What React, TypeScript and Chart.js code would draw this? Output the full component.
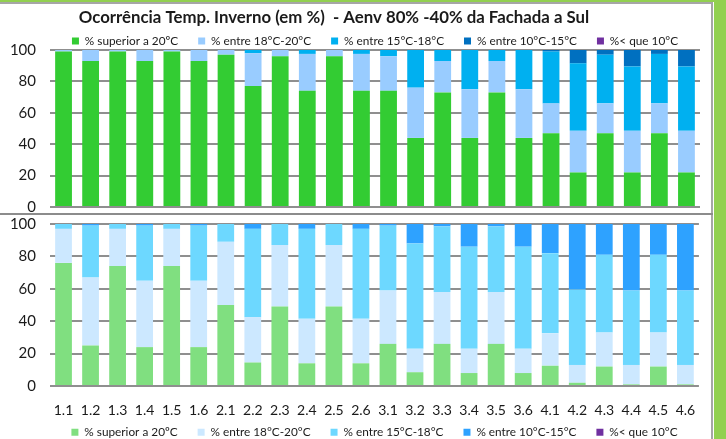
import React, { useEffect, useRef } from 'react';
import { Chart, registerables } from 'chart.js';

Chart.register(...registerables);

const categories = ['1.1', '1.2', '1.3', '1.4', '1.5', '1.6', '2.1', '2.2', '2.3', '2.4', '2.5', '2.6', '3.1', '3.2', '3.3', '3.4', '3.5', '3.6', '4.1', '4.2', '4.3', '4.4', '4.5', '4.6'];

const seriesNames = ['% superior a 20ºC', '% entre 18°C-20°C', '% entre 15°C-18°C', '% entre 10°C-15°C', '%< que 10°C'];

const titleText = 'Ocorrência Temp. Inverno (em %)  - Aenv 80% -40% da Fachada a Sul';

const yTickValues = [0, 20, 40, 60, 80, 100];

// Top panel
const topAbove20 = [99, 93, 99, 93, 99, 93, 97, 77, 96, 74, 96, 74, 74, 44, 73, 44, 73, 44, 47, 22, 47, 22, 47, 22];
const top18to20 = [1, 7, 1, 7, 1, 7, 3, 21, 4, 23.5, 4, 23.5, 22, 32, 20, 31, 20, 31, 19, 26.5, 19, 26.5, 19, 26.5];
const top15to18 = [0, 0, 0, 0, 0, 0, 0, 2, 0, 2.5, 0, 2.5, 4, 24, 7, 25, 7, 25, 33, 43, 31, 41, 31.5, 41];
const top10to15 = [0, 0, 0, 0, 0, 0, 0, 0, 0, 0, 0, 0, 0, 0, 0, 0, 0, 0, 1, 8.5, 3, 10.5, 2.5, 10.5];
const topBelow10 = [0, 0, 0, 0, 0, 0, 0, 0, 0, 0, 0, 0, 0, 0, 0, 0, 0, 0, 0, 0, 0, 0, 0, 0];

// Bottom panel
const botAbove20 = [76, 25, 74, 24, 74, 24, 50, 14.5, 49, 14, 49, 14, 26, 8.5, 26, 8, 26, 8, 12.5, 2, 12, 1, 12, 1];
const bot18to20 = [21, 42, 23, 41, 23, 41, 39, 28, 38, 27.5, 38, 27.5, 33, 14.5, 32, 15, 32, 15, 20, 11, 21, 12, 21, 12];
const bot15to18 = [3, 32, 3, 34, 3, 34, 11, 54.5, 13, 55.5, 13, 55.5, 40, 65, 40.5, 63, 40.5, 63, 49.5, 46.5, 48, 46, 48, 46];
const bot10to15 = [0, 1, 0, 1, 0, 1, 0, 3, 0, 3, 0, 3, 1, 12, 1.5, 14, 1.5, 14, 18, 40.5, 19, 41, 19, 41];
const botBelow10 = [0, 0, 0, 0, 0, 0, 0, 0, 0, 0, 0, 0, 0, 0, 0, 0, 0, 0, 0, 0, 0, 0, 0, 0];

const topColors = ['#33CC33', '#99CCFF', '#00B0F0', '#0070C0', '#7030A0'];
const botColors = ['#80DF80', '#CCE8FF', '#6DD8FF', '#2EA2FF', '#7030A0'];

const FONT = "Lato, 'Open Sans', sans-serif";
const TEXT = '#1a1a1a';
const GRID = '#8f8f8f';

const titlePlugin = {
  id: 'panelTitle',
  afterDraw(chart: any) {
    const o = chart.options.plugins.panelTitle;
    if (!o || !o.text) return;
    const { ctx, chartArea } = chart;
    ctx.save();
    ctx.font = `bold ${o.size}px ${FONT}`;
    ctx.fillStyle = TEXT;
    ctx.textAlign = 'center';
    ctx.textBaseline = 'middle';
    ctx.fillText(o.text, chartArea.left + chartArea.width / 2 + o.dx, o.y);
    ctx.restore();
  },
};

function makeDatasets(series: number[][], colors: string[]) {
  return series.map((data, i) => ({
    label: seriesNames[i],
    data,
    backgroundColor: colors[i],
    borderWidth: 0,
    categoryPercentage: 1,
    barPercentage: 0.62,
  }));
}

function yScale() {
  return {
    stacked: true,
    min: 0,
    max: 100,
    afterBuildTicks(scale: any) {
      scale.ticks = yTickValues.map((v) => ({ value: v }));
    },
    afterFit(scale: any) {
      scale.width = 50;
      scale.paddingTop = 0;
      scale.paddingBottom = 0;
    },
    grid: { color: GRID, lineWidth: 2, drawTicks: false },
    border: { display: false },
    ticks: { color: TEXT, font: { family: FONT, size: 15 }, padding: 14 },
  };
}

function legendOpts(position: string, maxHeight: number) {
  return {
    display: true,
    position,
    fullSize: false,
    maxHeight,
    labels: {
      boxWidth: 7,
      boxHeight: 7,
      padding: 20,
      color: TEXT,
      font: { family: FONT, size: 11.8 },
    },
  };
}

export default function App() {
  const topRef = useRef<HTMLCanvasElement>(null);
  const botRef = useRef<HTMLCanvasElement>(null);

  useEffect(() => {
    const top = new Chart(topRef.current as HTMLCanvasElement, {
      type: 'bar',
      data: {
        labels: categories,
        datasets: makeDatasets([topAbove20, top18to20, top15to18, top10to15, topBelow10], topColors),
      },
      options: {
        responsive: false,
        animation: false,
        devicePixelRatio: 1,
        layout: { padding: { top: 11.1, bottom: 6, left: 0, right: 11 } },
        scales: {
          x: { stacked: true, display: false },
          y: yScale(),
        },
        plugins: {
          legend: legendOpts('top', 34.9),
          tooltip: { enabled: false },
          panelTitle: { text: titleText, size: 16.8, y: 13.5, dx: -41 },
        } as any,
      },
      plugins: [titlePlugin],
    } as any);

    const bot = new Chart(botRef.current as HTMLCanvasElement, {
      type: 'bar',
      data: {
        labels: categories,
        datasets: makeDatasets([botAbove20, bot18to20, bot15to18, bot10to15, botBelow10], botColors),
      },
      options: {
        responsive: false,
        animation: false,
        devicePixelRatio: 1,
        layout: { padding: { top: 9, bottom: 0, left: 0, right: 11 } },
        scales: {
          x: {
            stacked: true,
            grid: { display: false, drawTicks: false },
            border: { display: false },
            ticks: { color: TEXT, font: { family: FONT, size: 14 }, padding: 15.6, maxRotation: 0, autoSkip: false },
            afterFit(scale: any) {
              scale.height = 20.25;
              // let the tick labels extend below the (shortened) axis box
              scale._computeLabelArea = () => undefined;
            },
          },
          y: yScale(),
        },
        plugins: {
          legend: legendOpts('bottom', 32.75),
          tooltip: { enabled: false },
        },
      },
    } as any);

    return () => {
      top.destroy();
      bot.destroy();
    };
  }, []);

  return (
    <div style={{ position: 'absolute', left: 0, top: 0, width: 726, height: 439, background: '#ffffff', overflow: 'hidden' }}>
      <div style={{ position: 'absolute', left: 0, top: 0, width: 726, height: 2, background: '#92D050' }} />
      <div style={{ position: 'absolute', left: 714, top: 0, width: 12, height: 439, background: '#92D050' }} />
      <div style={{ position: 'absolute', left: 0, top: 2, width: 713, height: 2, background: '#a6a6a6' }} />
      <div style={{ position: 'absolute', left: 711, top: 2, width: 2, height: 437, background: '#a6a6a6' }} />
      <div style={{ position: 'absolute', left: 0, top: 213, width: 713, height: 2, background: '#8c8c8c' }} />
      <canvas ref={topRef} width={711} height={209} style={{ position: 'absolute', left: 0, top: 4, width: 711, height: 209 }} />
      <canvas ref={botRef} width={711} height={224} style={{ position: 'absolute', left: 0, top: 215, width: 711, height: 224 }} />
    </div>
  );
}
